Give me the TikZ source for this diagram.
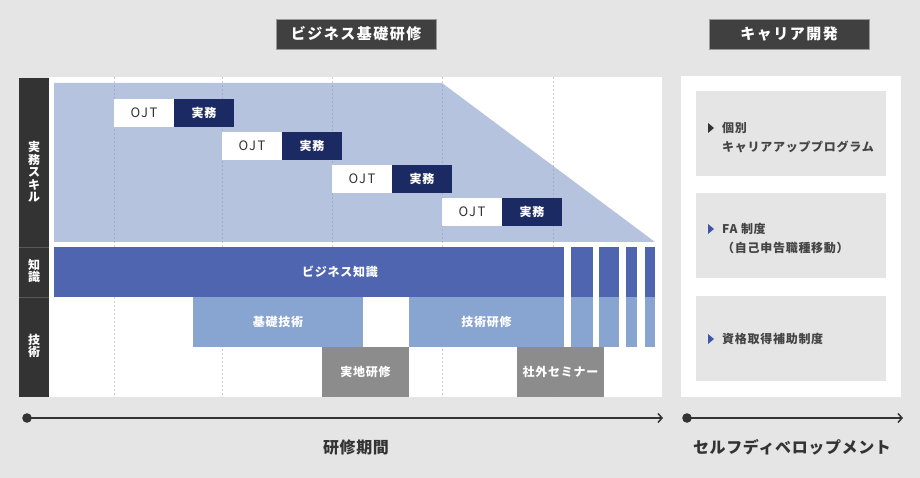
\documentclass[tikz,border=0pt]{standalone}
\usepackage{fontspec}
\setmainfont{Noto Sans CJK JP}
\usetikzlibrary{arrows.meta}
\definecolor{bgc}{HTML}{E5E5E5}
\definecolor{titlec}{HTML}{404040}
\definecolor{colc}{HTML}{333333}
\definecolor{trapc}{HTML}{B6C3DF}
\definecolor{navyc}{HTML}{1C2A64}
\definecolor{knc}{HTML}{4F65AF}
\definecolor{techc}{HTML}{88A5D1}
\definecolor{grayc}{HTML}{8C8C8C}
\definecolor{txtc}{HTML}{444444}
\definecolor{tric}{HTML}{3F56A8}
\definecolor{gridc}{HTML}{CFCFCF}
\definecolor{gridb}{HTML}{A3ADCB}
\begin{document}
\begin{tikzpicture}[x=1pt,y=-1pt,
  cell/.style={inner sep=0pt, outer sep=0pt, anchor=north west, text=white,
    font=\bfseries\fontsize{12}{14}\selectfont\addfontfeature{LetterSpace=6}},
  titlebox/.style={cell, fill=titlec, draw=gray!80, line width=0.6pt,
    minimum width=160pt, minimum height=30pt,
    font=\bfseries\fontsize{15}{17}\selectfont\addfontfeature{LetterSpace=10}},
  ojtbox/.style={cell, fill=white, text=colc, minimum width=60pt, minimum height=28pt,
    font=\fontsize{13}{14}\selectfont\addfontfeature{LetterSpace=12}},
  jmbox/.style={cell, fill=navyc, minimum width=60pt, minimum height=28pt},
  sidelab/.style={inner sep=0pt, text=white, align=center,
    font=\bfseries\fontsize{12}{12.5}\selectfont},
  celltext/.style={inner sep=0pt, text=white,
    font=\bfseries\fontsize{12}{14}\selectfont\addfontfeature{LetterSpace=6}},
  cbox/.style={cell, fill=bgc, minimum width=190pt, minimum height=85pt},
  ctext/.style={inner sep=0pt, anchor=west, text=txtc, align=left,
    font=\bfseries\fontsize{12}{19}\selectfont\addfontfeature{LetterSpace=6}},
  gline/.style={gridc, dashed, line width=0.6pt, dash pattern=on 2pt off 2pt},
  axis/.style={draw=colc, line width=1.8pt, -{Straight Barb[length=4pt,width=9pt,line width=1.5pt]}},
  axlab/.style={inner sep=0pt, text=colc,
    font=\bfseries\fontsize{16}{18}\selectfont\addfontfeature{LetterSpace=4}}
]
\useasboundingbox (0,0) rectangle (920,478);
\fill[bgc] (0,0) rectangle (920,478);

% titles
\node[titlebox] (t1) at (276,19) {ビジネス基礎研修};
\node[titlebox] (t2) at (709,19) {キャリア開発};

% left label column
\fill[colc] (19,78) rectangle (49,397);
\draw[gray!70!black, line width=0.8pt] (19,247) -- (49,247);
\draw[gray!70!black, line width=0.8pt] (19,297) -- (49,297);
\node[sidelab] (l1) at (34,172) {実\\務\\ス\\キ\\ル};
\node[sidelab] (l2) at (34,271) {知\\識};
\node[sidelab] (l3) at (34,346) {技\\術};

% main white panel
\fill[white] (49,77) rectangle (662,397);
% grid lines
\foreach \gx in {114,222,332,442,553} \draw[gline] (\gx,77) -- (\gx,397);
% trapezoid
\fill[trapc] (54,83) -- (442,83) -- (655,242) -- (54,242) -- cycle;
\begin{scope}
\clip (54,83) -- (442,83) -- (655,242) -- (54,242) -- cycle;
\foreach \gx in {114,222,332,442,553} \draw[gline, gridb] (\gx,77) -- (\gx,397);
\end{scope}

% OJT / 実務
\node[ojtbox] (o1) at (114,99) {OJT};
\node[jmbox] (j1) at (174,99) {実務};
\node[ojtbox] (o2) at (222,132) {OJT};
\node[jmbox] (j2) at (282,132) {実務};
\node[ojtbox] (o3) at (332,165) {OJT};
\node[jmbox] (j3) at (392,165) {実務};
\node[ojtbox] (o4) at (442,198) {OJT};
\node[jmbox] (j4) at (502,198) {実務};

% knowledge bar
\node[cell, fill=knc, minimum width=510pt, minimum height=50pt] (kb) at (54,247) {};
\node[celltext] (kbt) at (340,272) {ビジネス知識};
% stripes
\foreach \sa/\sb in {571/593,599/619,626/637,645/655}{
  \fill[knc] (\sa,247) rectangle (\sb,297);
  \fill[techc] (\sa,297) rectangle (\sb,347);
}
% technology
\node[cell, fill=techc, minimum width=170pt, minimum height=50pt] (kg) at (193,297) {基礎技術};
\node[cell, fill=techc, minimum width=155pt, minimum height=50pt] (gk) at (409,297) {技術研修};
\node[cell, fill=grayc, minimum width=87pt, minimum height=50pt] (jc) at (322,347) {実地研修};
\node[cell, fill=grayc, minimum width=87pt, minimum height=50pt] (sg) at (517,347) {社外セミナー};

% right panel
\fill[white] (681,76) rectangle (901,397);
\node[cbox] (b1) at (696,91) {};
\node[cbox] (b2) at (696,193) {};
\node[cbox] (b3) at (696,296) {};
\fill[colc] (708,123) -- (714,128) -- (708,133) -- cycle;
\fill[tric] (708,224) -- (714,229) -- (708,234) -- cycle;
\fill[tric] (708,334) -- (714,339) -- (708,344) -- cycle;
\node[ctext] (c1) at (722,137.5) {個別\\キャリアアッププログラム};
\node[ctext] (c2) at (722,238.5) {FA 制度\\（自己申告職種移動）};
\node[ctext] (c3) at (722,339) {資格取得補助制度};

% axes
\coordinate (a1s) at (27,418);
\coordinate (a1e) at (663,418);
\coordinate (a2s) at (687,418);
\coordinate (a2e) at (903,418);
\fill[colc] (a1s) circle (4.8pt);
\fill[colc] (a2s) circle (4.8pt);
\draw[axis] (a1s) -- (a1e);
\draw[axis] (a2s) -- (a2e);
\node[axlab] (x1) at (356,447) {研修期間};
\node[axlab] (x2) at (792,447) {セルフディベロップメント};
\end{tikzpicture}
\end{document}
